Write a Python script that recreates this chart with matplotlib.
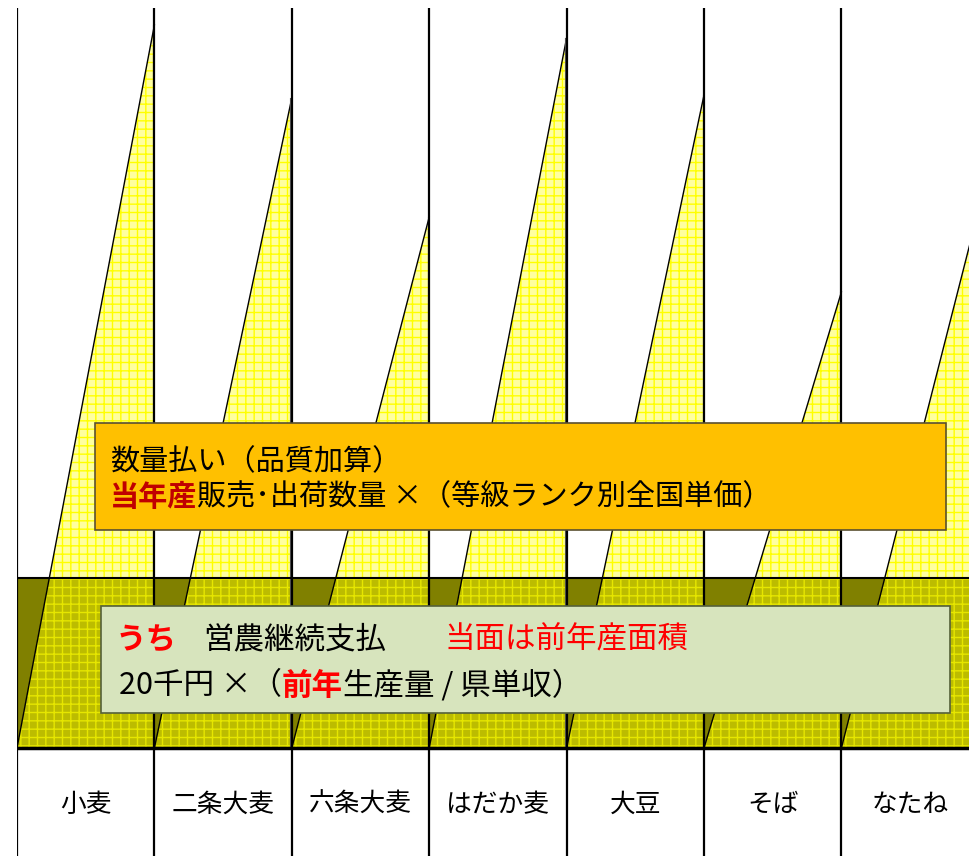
import matplotlib
matplotlib.use("Agg")
import matplotlib.pyplot as plt
from matplotlib.patches import Polygon, Rectangle

plt.rcParams['font.family'] = ['Noto Sans CJK JP', 'DejaVu Sans']
plt.rcParams['hatch.linewidth'] = 1.0

# crops along the bottom row
crops = ['小麦', '二条大麦', '六条大麦', 'はだか麦', '大豆', 'そば', 'なたね']
# height of each triangle (quantity payment)
peak = [723, 650, 531, 710, 653, 456, 539]
# height of the olive band (営農継続支払)
band = 170

W, H = 970, 856
fig = plt.figure(figsize=(W / 100, H / 100), dpi=100)
fig.patch.set_facecolor('white')

col_w = 137.4
ax = fig.add_axes([17 / W, 0, 1 - 17 / W, 848 / H])
ax.set_xlim(0, (W - 17) / col_w)
ax.set_ylim(-108, 740)
ax.axis('off')

# olive band
ax.axhspan(0, band, color='#808000', zorder=1)
band_clip = Rectangle((0, 0), 10, band, transform=ax.transData)

for i, v in enumerate(peak):
    pts = [(i, 0), (i + 1, v), (i + 1, 0)]
    light = Polygon(pts, closed=True, facecolor='#ffffa0', edgecolor='#ffff00',
                    hatch='++', lw=0, zorder=2)
    ax.add_patch(light)
    dark = Polygon(pts, closed=True, facecolor='#bcbc00', edgecolor='#e6e600',
                   hatch='++', lw=0, zorder=3)
    ax.add_patch(dark)
    dark.set_clip_path(band_clip)
    ax.plot([i, i + 1], [0, v], color='black', lw=1.0, zorder=4)
    ax.plot([i + 0.99, i + 0.99], [0, v], color='#555555', lw=0.8, zorder=4)

# grid lines
ax.hlines(band, 0, 10, color='black', lw=1.5, zorder=5)
ax.hlines(0, 0, 10, color='black', lw=2.5, zorder=5)
ax.vlines(range(0, 8), -108, 740, color='black', lw=1.6, zorder=5)

for i, c in enumerate(crops):
    ax.text(i + 0.5, -57, c, ha='center', va='center', fontsize=18.5, zorder=6)

# text boxes
def box(x0, y0, x1, y1, fc, ec):
    r = Rectangle((x0 / W, 1 - y1 / H), (x1 - x0) / W, (y1 - y0) / H,
                  transform=fig.transFigure, facecolor=fc, edgecolor=ec, lw=1.2,
                  zorder=10)
    fig.add_artist(r)

box(95, 423, 946, 530, '#ffc000', '#5a5030')
box(101, 606, 950, 713, '#d7e4bd', '#55603a')

renderer = fig.canvas.get_renderer()

def runs(parts, x, y, fs):
    for s, col, wt in parts:
        t = fig.text(x / W, 1 - y / H, s, color=col, fontweight=wt, fontsize=fs,
                     ha='left', va='center', zorder=11)
        x = t.get_window_extent(renderer).x1
    return x

runs([('数量払い（品質加算）', 'black', 'normal')], 110, 462, 21)
runs([('当年産', '#c00000', 'bold'),
      ('販売･出荷数量 ×（等級ランク別全国単価）', 'black', 'normal')], 110, 497, 21)

runs([('うち', '#ff0000', 'bold')], 116, 640, 22)
runs([('営農継続支払', 'black', 'normal')], 203, 640, 22)
runs([('当面は前年産面積', '#ff0000', 'normal')], 444, 640, 22)
runs([('20千円 ×（', 'black', 'normal'),
      ('前年', '#ff0000', 'bold'),
      ('生産量 / 県単収）', 'black', 'normal')], 119, 686, 22)

fig.savefig('out.png', dpi=100)
